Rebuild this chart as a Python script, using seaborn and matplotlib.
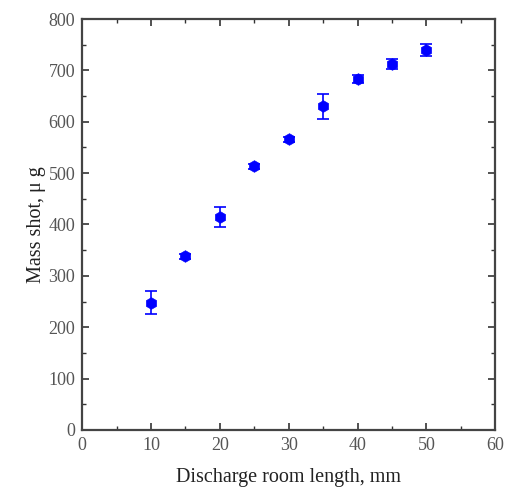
import matplotlib
matplotlib.use("Agg")
import matplotlib.pyplot as plt
import seaborn as sns
import pandas as pd
from matplotlib.ticker import MultipleLocator

# Values
length_mm = [10, 15, 20, 25, 30, 35, 40, 45, 50]
mass_ug = [248, 338, 415, 513, 566, 630, 684, 713, 740]
mass_err = [23, 5, 20, 5, 5, 24, 8, 10, 12]

df = pd.DataFrame({"length": length_mm, "mass": mass_ug, "err": mass_err})

sns.set_style("ticks")
plt.rcParams["font.family"] = ["Liberation Serif", "DejaVu Serif"]

fig = plt.figure(figsize=(5.1, 4.88), dpi=100)
ax = fig.add_axes([0.161, 0.119, 0.81, 0.842])

ax.errorbar(df["length"], df["mass"], yerr=df["err"], fmt="none",
            ecolor="#0000ff", elinewidth=1.2, capsize=4, capthick=1.2, zorder=2)
sns.scatterplot(data=df, x="length", y="mass", ax=ax, color="#0000ff",
                marker="h", s=70, edgecolor="#0000ff", linewidth=0.5, zorder=3)

ax.set_xlim(0, 60)
ax.set_ylim(0, 800)
ax.xaxis.set_major_locator(MultipleLocator(10))
ax.xaxis.set_minor_locator(MultipleLocator(5))
ax.yaxis.set_major_locator(MultipleLocator(100))
ax.yaxis.set_minor_locator(MultipleLocator(50))
ax.tick_params(which="both", direction="in", top=True, right=True,
               color="#333333", labelsize=13, labelcolor="#555555")
ax.tick_params(which="major", length=5, width=1.2, pad=5)
ax.tick_params(which="minor", length=3, width=1.0)
for sp in ax.spines.values():
    sp.set_linewidth(1.6)
    sp.set_color("#444444")

ax.set_xlabel("Discharge room length, mm", fontsize=14.5, color="#222222", labelpad=10)
ax.set_ylabel("Mass shot, μ g", fontsize=14.5, color="#222222", labelpad=2)

fig.savefig("out.png", dpi=100)
